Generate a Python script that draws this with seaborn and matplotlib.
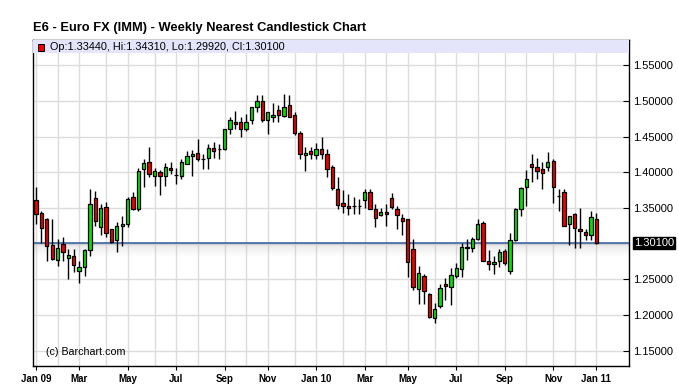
import numpy as np
import pandas as pd
import matplotlib
matplotlib.use("Agg")
import matplotlib.pyplot as plt
import matplotlib.transforms as mtransforms
from matplotlib.patches import Rectangle
import seaborn as sns

# ---------------- data (weekly candles) ----------------
first_week = "2009-01-04"
opens = [1.361, 1.343, 1.334, 1.298, 1.277, 1.300, 1.280, 1.282, 1.261, 1.267,
         1.291, 1.364, 1.323, 1.351, 1.320, 1.305, 1.324, 1.328, 1.366, 1.349,
         1.404, 1.415, 1.395, 1.401, 1.395, 1.406, 1.396, 1.395, 1.412, 1.423,
         1.427, 1.419, 1.420, 1.434, 1.432, 1.432, 1.461, 1.471, 1.471, 1.460,
         1.473, 1.491, 1.500, 1.473, 1.478, 1.487, 1.479, 1.495, 1.480, 1.455,
         1.424, 1.430, 1.424, 1.432, 1.426, 1.407, 1.377, 1.357, 1.353, 1.353,
         1.353, 1.361, 1.372, 1.349, 1.340, 1.344, 1.364, 1.349, 1.336, 1.335,
         1.292, 1.236, 1.255, 1.229, 1.195, 1.213, 1.244, 1.239, 1.255, 1.265,
         1.294, 1.294, 1.306, 1.329, 1.276, 1.271, 1.276, 1.290, 1.262, 1.305,
         1.349, 1.380, 1.411, 1.408, 1.405, 1.407, 1.416, 1.367, 1.373, 1.327,
         1.341, 1.320, 1.316, 1.312, 1.3344]
highs = [1.379, 1.345, 1.336, 1.334, 1.306, 1.309, 1.293, 1.292, 1.275, 1.292,
         1.376, 1.374, 1.355, 1.359, 1.320, 1.330, 1.338, 1.366, 1.373, 1.406,
         1.418, 1.435, 1.406, 1.403, 1.413, 1.415, 1.406, 1.418, 1.430, 1.431,
         1.446, 1.426, 1.439, 1.442, 1.439, 1.461, 1.478, 1.486, 1.478, 1.482,
         1.492, 1.508, 1.508, 1.485, 1.497, 1.495, 1.510, 1.508, 1.485, 1.458,
         1.435, 1.435, 1.441, 1.450, 1.433, 1.410, 1.393, 1.375, 1.370, 1.365,
         1.363, 1.377, 1.377, 1.355, 1.350, 1.355, 1.371, 1.353, 1.341, 1.335,
         1.306, 1.269, 1.257, 1.230, 1.216, 1.244, 1.252, 1.266, 1.273, 1.301,
         1.306, 1.309, 1.335, 1.332, 1.291, 1.282, 1.292, 1.292, 1.315, 1.350,
         1.379, 1.403, 1.426, 1.420, 1.415, 1.429, 1.419, 1.376, 1.376, 1.339,
         1.343, 1.350, 1.320, 1.345, 1.3431]
lows = [1.328, 1.301, 1.275, 1.277, 1.269, 1.275, 1.251, 1.260, 1.245, 1.255,
        1.283, 1.324, 1.312, 1.309, 1.301, 1.288, 1.296, 1.323, 1.347, 1.345,
        1.380, 1.394, 1.381, 1.368, 1.381, 1.397, 1.384, 1.391, 1.411, 1.395,
        1.416, 1.404, 1.404, 1.420, 1.418, 1.431, 1.453, 1.460, 1.449, 1.458,
        1.468, 1.484, 1.471, 1.454, 1.470, 1.470, 1.478, 1.477, 1.452, 1.419,
        1.402, 1.419, 1.419, 1.418, 1.393, 1.375, 1.348, 1.343, 1.340, 1.342,
        1.342, 1.350, 1.348, 1.323, 1.338, 1.324, 1.348, 1.320, 1.312, 1.253,
        1.235, 1.215, 1.215, 1.195, 1.188, 1.209, 1.221, 1.214, 1.252, 1.253,
        1.277, 1.288, 1.305, 1.275, 1.263, 1.258, 1.267, 1.270, 1.258, 1.304,
        1.338, 1.352, 1.386, 1.391, 1.376, 1.402, 1.357, 1.345, 1.324, 1.298,
        1.294, 1.294, 1.305, 1.305, 1.2992]
closes = [1.341, 1.322, 1.297, 1.278, 1.294, 1.288, 1.284, 1.270, 1.267, 1.291,
          1.356, 1.332, 1.350, 1.315, 1.302, 1.324, 1.327, 1.363, 1.348, 1.402,
          1.413, 1.397, 1.402, 1.395, 1.408, 1.403, 1.396, 1.415, 1.423, 1.426,
          1.418, 1.418, 1.434, 1.430, 1.432, 1.460, 1.473, 1.467, 1.460, 1.471,
          1.491, 1.500, 1.474, 1.484, 1.481, 1.480, 1.491, 1.478, 1.455, 1.425,
          1.427, 1.425, 1.433, 1.426, 1.405, 1.378, 1.354, 1.353, 1.350, 1.353,
          1.353, 1.372, 1.349, 1.336, 1.344, 1.341, 1.351, 1.340, 1.331, 1.274,
          1.239, 1.259, 1.233, 1.197, 1.208, 1.237, 1.241, 1.256, 1.266, 1.295,
          1.295, 1.306, 1.328, 1.276, 1.271, 1.274, 1.288, 1.273, 1.305, 1.348,
          1.378, 1.391, 1.407, 1.402, 1.399, 1.415, 1.380, 1.367, 1.325, 1.338,
          1.322, 1.317, 1.312, 1.337, 1.3010]
last_price = 1.3010
y_ticks = [1.15, 1.20, 1.25, 1.35, 1.40, 1.45, 1.50, 1.55]
grid_levels = [1.15, 1.20, 1.25, 1.30, 1.35, 1.40, 1.45, 1.50, 1.55]
title = "E6 - Euro FX (IMM) - Weekly Nearest Candlestick Chart"
header = "Op:1.33440, Hi:1.34310, Lo:1.29920, Cl:1.30100"

# ---------------- style ----------------
sns.set_theme(style="white")
plt.rcParams["font.family"] = ["Liberation Sans", "DejaVu Sans"]

n = len(opens)
dates = pd.date_range(first_week, periods=n, freq="7D")
df = pd.DataFrame({"date": dates, "open": opens, "high": highs,
                   "low": lows, "close": closes})
df["x"] = np.arange(n)

W, H = 678, 386
fig = plt.figure(figsize=(W / 100, H / 100), dpi=100)
fig.patch.set_facecolor("white")
ax = fig.add_axes([33 / W, 1 - 366 / H, (629 - 33) / W, (366 - 40) / H])
ax.set_facecolor("white")

# month gridlines at first weekly bar of each month
month_first = df.index[df["date"].dt.month != df["date"].shift(1).dt.month].tolist()
for i in month_first:
    ax.axvline(i, color="#dcdcdc", lw=1.0, zorder=0)
for lv in grid_levels:
    ax.axhline(lv, color="#dcdcdc", lw=1.0, zorder=0)

# shadow below last price line
d = 1.3 / 713
for k in range(10):
    ax.axhspan(last_price - (k + 1) * d, last_price - k * d,
               color="#a0a0a0", alpha=0.25 * (1 - k / 10), lw=0, zorder=0.5)
ax.axhline(last_price, color="#3a62a0", lw=1.2, zorder=1)

# candles
up = df["close"] > df["open"]
dn = df["close"] < df["open"]
colors = np.where(up, "#00e400", np.where(dn, "#f00000", "#000000"))
ax.vlines(df["x"], df["low"], df["high"], color="black", lw=1.0, zorder=2)
body_lo = np.minimum(df["open"], df["close"])
body_h = np.abs(df["close"] - df["open"])
ax.bar(df["x"], body_h, bottom=body_lo, width=0.62, color=colors,
       edgecolor="black", linewidth=0.9, zorder=3)

ax.set_xlim(-0.56, 110.07)
ax.set_ylim(1.1283, 1.5855)

# axes / ticks
for s in ax.spines.values():
    s.set_visible(True)
    s.set_color("black")
    s.set_linewidth(1.0)
ax.yaxis.tick_right()
ax.set_yticks(y_ticks)
ax.set_yticklabels([f"{v:.5f}" for v in y_ticks])
ax.tick_params(axis="y", which="both", direction="in", length=4, width=0.8,
               colors="black", labelsize=8, pad=3, left=False, right=True)

tick_idx = [i for i in month_first if df["date"][i].month % 2 == 1]
tick_lab = [(df["date"][i].strftime("%b %y") if df["date"][i].month == 1
             else df["date"][i].strftime("%b")) for i in tick_idx]
ax.set_xticks(tick_idx)
ax.set_xticklabels(tick_lab, fontweight="bold")
ax.tick_params(axis="x", direction="out", length=3, width=0.8, colors="black",
               labelsize=7, pad=3, bottom=True)
ax.grid(False)

# header band inside plot
band_h = 13 / 326
ax.add_patch(Rectangle((0, 1 - band_h), 1, band_h, transform=ax.transAxes,
                       facecolor="#e4e4fa", edgecolor="none", zorder=5))
ax.add_patch(Rectangle((5 / 596, 1 - 10.5 / 326), 6 / 596, 6.5 / 326,
                       transform=ax.transAxes, facecolor="#f00000",
                       edgecolor="black", lw=0.7, zorder=6))
ax.text(17 / 596, 1 - 7.0 / 326, header, transform=ax.transAxes, fontsize=7.8,
        va="center", ha="left", color="black", zorder=6)

# last price tag on right axis
trans = mtransforms.blended_transform_factory(ax.transAxes, ax.transData)
ax.text(1 + 5 / 596, last_price, f"{last_price:.5f}", transform=trans,
        fontsize=8, color="white", va="center", ha="left", zorder=7,
        clip_on=False,
        bbox=dict(boxstyle="square,pad=0.1", facecolor="black",
                  edgecolor="black"))

ax.text(13 / 596, 1.1475, "(c) Barchart.com", fontsize=7.7, va="center",
        ha="left", color="black", transform=trans, zorder=4)

fig.text(33 / W, 1 - 28 / H, title, fontsize=9.3, fontweight="bold",
         va="center", ha="left", color="black")

fig.savefig("out.png", dpi=100)
